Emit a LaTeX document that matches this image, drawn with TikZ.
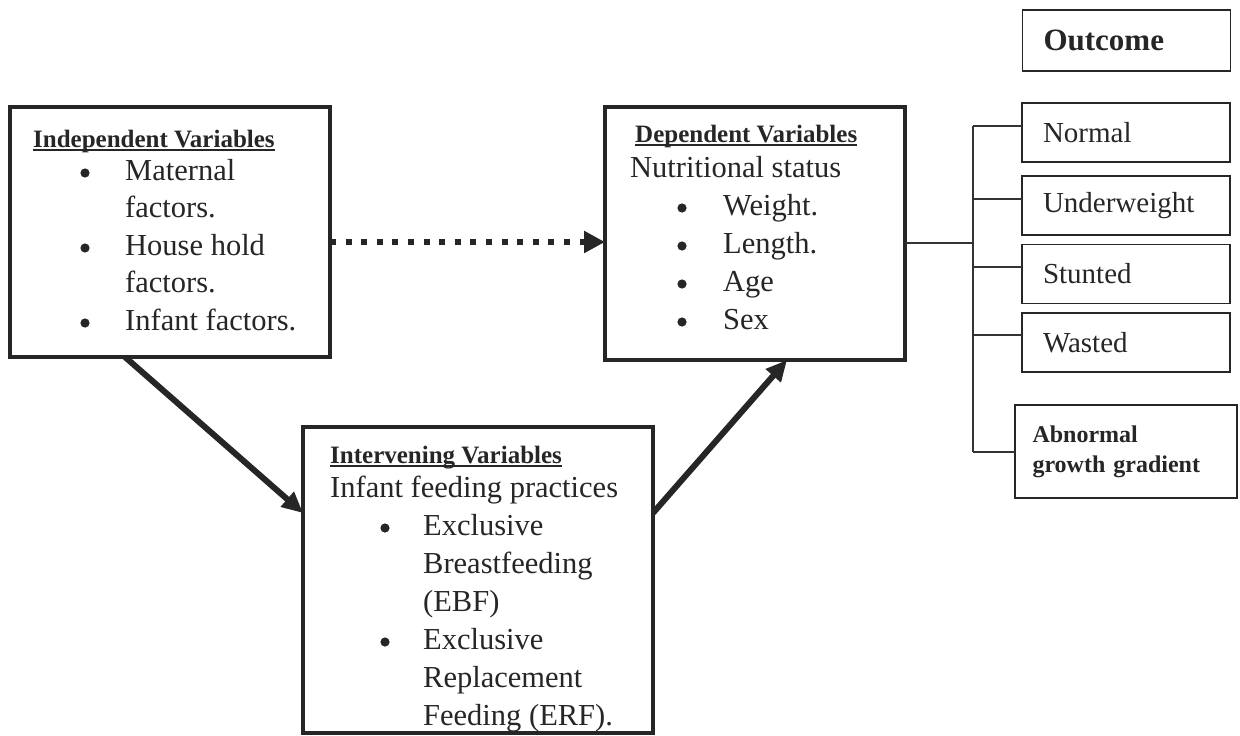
\documentclass[tikz,border=0pt]{standalone}
\usepackage{fontspec}
\setmainfont{Liberation Serif}
\usetikzlibrary{arrows.meta}
\newcommand\ulx[1]{\setbox0\hbox{#1}\rlap{\rule[-4pt]{\wd0}{2pt}}\box0}
\begin{document}
\begin{tikzpicture}[x=1pt,y=-1pt,
  bigbox/.style={draw=black!85, line width=3.8pt, fill=white, inner sep=0pt, outer sep=0pt},
  smallbox/.style={draw=black!85, line width=1.8pt, fill=white, inner xsep=21pt, inner ysep=0pt, outer sep=0pt,
     minimum width=208pt, minimum height=59pt, text width=166pt, align=left, text=black!85,
     font=\fontsize{29}{34}\selectfont},
  ttl/.style={anchor=base west, inner sep=0pt, text=black!85, font=\fontsize{25}{30}\selectfont\bfseries},
  txt/.style={anchor=base west, inner sep=0pt, text=black!85, font=\fontsize{30.5}{36}\selectfont},
  dot/.style={fill=black!85},
  tree/.style={draw=black!80, line width=1.5pt},
  thickarr/.style={draw=black!85, line width=6pt, -{Triangle[length=21pt,width=19pt]}},
  dotarr/.style={draw=black!85, line width=6pt, dash pattern=on 6pt off 9.6pt, -{Triangle[length=21pt,width=21pt]}}
]
\fill[white] (0,0) rectangle (1240,736);
\useasboundingbox (0,0) rectangle (1240,736);

% main boxes
\node[bigbox, minimum width=320pt, minimum height=250pt] (ind) at (170,232) {};
\node[bigbox, minimum width=300pt, minimum height=253pt] (dep) at (755,233.5) {};
\node[bigbox, minimum width=350pt, minimum height=306pt] (int) at (478,580) {};

% independent variables
\node[ttl] (indT) at (33,147) {\ulx{Independent Variables}};
\node[txt] (ind1) at (125,180) {Maternal};
\node[txt] (ind2) at (125,217.5) {factors.};
\node[txt] (ind3) at (125,255) {House hold};
\node[txt] (ind4) at (125,292.5) {factors.};
\node[txt] (ind5) at (125,330) {Infant factors.};
\foreach \n in {ind1,ind3,ind5}
  \fill[dot] ([xshift=-40pt,yshift=7pt]\n.base west) circle (4.6pt);

% dependent variables
\node[ttl] (depT) at (635,142) {\ulx{Dependent Variables}};
\node[txt] (dep0) at (630,177) {Nutritional status};
\node[txt] (dep1) at (723,215) {Weight.};
\node[txt] (dep2) at (723,253) {Length.};
\node[txt] (dep3) at (723,291) {Age};
\node[txt] (dep4) at (723,329) {Sex};
\foreach \n in {dep1,dep2,dep3,dep4}
  \fill[dot] ([xshift=-41pt,yshift=7pt]\n.base west) circle (4.6pt);

% intervening variables
\node[ttl] (intT) at (330,463) {\ulx{Intervening Variables}};
\node[txt] (int0) at (330,497) {Infant feeding practices};
\node[txt] (int1) at (423,535) {Exclusive};
\node[txt] (int2) at (423,573) {Breastfeeding};
\node[txt] (int3) at (423,611) {(EBF)};
\node[txt] (int4) at (423,649) {Exclusive};
\node[txt] (int5) at (423,687) {Replacement};
\node[txt] (int6) at (423,725) {Feeding (ERF).};
\foreach \n in {int1,int4}
  \fill[dot] ([xshift=-38pt,yshift=7pt]\n.base west) circle (4.6pt);

% outcome boxes
\node[smallbox, minimum height=61pt, font=\fontsize{31}{36}\selectfont\bfseries] (out) at (1126.5,40.5) {Outcome};
\node[smallbox] (nor) at (1126,132.5) {Normal};
\node[smallbox] (und) at (1126,205.5) {Underweight};
\node[smallbox] (stu) at (1126,274) {Stunted};
\node[smallbox] (was) at (1126,342.5) {Wasted};
\node[smallbox, minimum width=222pt, text width=187pt, inner xsep=17.5pt, minimum height=93pt,
      font=\fontsize{24}{30}\selectfont\bfseries] (abn) at (1126,451.5) {Abnormal\\growth gradient};

% tree connectors
\coordinate (jn) at (973,243);
\coordinate (vt) at (973,126);
\coordinate (vb) at (973,452);
\draw[tree] (dep.east |- jn) -- (jn);
\draw[tree] (vt) -- (vb);
\draw[tree] (vt) -- ([yshift=6.5pt]nor.west);
\draw[tree] (vt |- und.west) ++(0,-6.5) -- ([yshift=6.5pt]und.west);
\draw[tree] (vt |- stu.west) ++(0,-7) -- ([yshift=7pt]stu.west);
\draw[tree] (vt |- was.west) ++(0,-7.5) -- ([yshift=7.5pt]was.west);
\draw[tree] (vb) -- (abn.west |- vb);

% arrows
\draw[dotarr] ([yshift=-10pt]ind.east) -- ([yshift=-8.5pt]dep.west);
\draw[thickarr] ([xshift=-45pt]ind.south) -- ([yshift=67pt]int.west);
\draw[thickarr] ([yshift=67pt]int.east) -- ([xshift=32pt]dep.south);
\end{tikzpicture}
\end{document}
